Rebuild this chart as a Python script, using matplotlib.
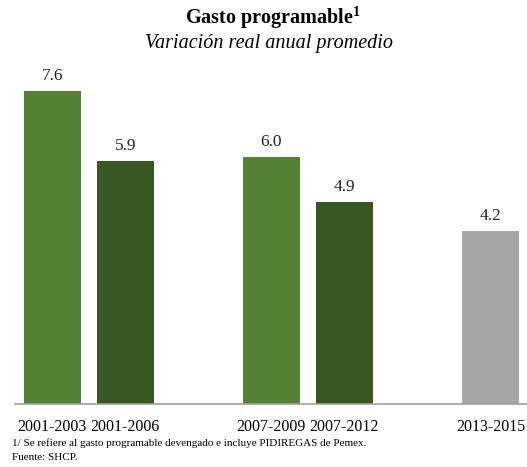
import matplotlib.pyplot as plt

# data
periods = ["2001-2003", "2001-2006", "2007-2009", "2007-2012", "2013-2015"]
values = [7.6, 5.9, 6.0, 4.9, 4.2]
slots = [0, 1, 3, 4, 6]
colors = ["#548235", "#385723", "#548235", "#385723", "#A6A6A6"]

plt.rcParams['font.family'] = ['Liberation Serif', 'DejaVu Serif']
plt.rcParams['mathtext.fontset'] = 'custom'
plt.rcParams['mathtext.rm'] = 'Liberation Serif'
plt.rcParams['mathtext.bf'] = 'Liberation Serif:bold'

fig = plt.figure(figsize=(5.27, 4.67), dpi=100)
ax = fig.add_axes([15 / 527, 63 / 467, 512 / 527, 344 / 467])

bars = ax.bar(slots, values, width=0.78, color=colors)
for b, v in zip(bars, values):
    ax.text(b.get_x() + b.get_width() / 2, v + 0.17, f"{v:.1f}",
            ha="center", va="bottom", fontsize=12.5, color="#222222")

ax.set_xlim(-0.51, 6.5)
ax.set_ylim(0, 8.35)
ax.set_xticks(slots)
ax.set_xticklabels(periods, fontsize=11.5)
ax.tick_params(axis="x", length=0, pad=11)
ax.set_yticks([])
for s in ["top", "right", "left"]:
    ax.spines[s].set_visible(False)
ax.spines["bottom"].set_color("#A0A0A0")
ax.spines["bottom"].set_linewidth(1.2)

fig.text(0.518, 0.962, r"Gasto programable$^{\mathbf{1}}$", ha="center", va="center",
         fontsize=14.5, fontweight="bold")
fig.text(0.51, 0.907, "Variación real anual promedio", ha="center", va="center",
         fontsize=14.5, style="italic")

fig.text(12 / 527, 1 - 443 / 467, "1/ Se refiere al gasto programable devengado e incluye PIDIREGAS de Pemex.",
         ha="left", va="center", fontsize=8)
fig.text(12 / 527, 1 - 457 / 467, "Fuente: SHCP.", ha="left", va="center", fontsize=8)

fig.savefig("out.png", dpi=100)
